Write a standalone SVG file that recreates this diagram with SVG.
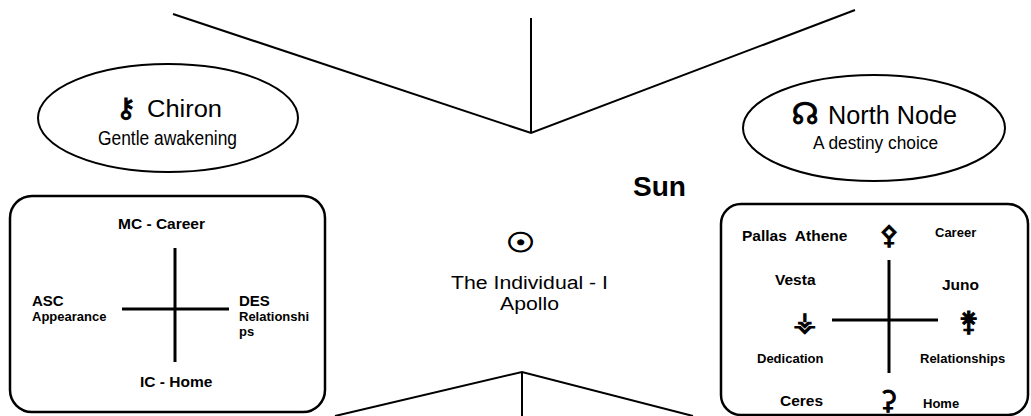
<svg xmlns="http://www.w3.org/2000/svg" width="1031" height="416" viewBox="0 0 1031 416">
<style>
.t{font-family:"Liberation Sans",Arial,sans-serif;fill:#000}
.b{font-weight:bold}
.sym{font-family:"DejaVu Sans",sans-serif;fill:#000;stroke:#000;stroke-width:1;text-anchor:middle}
.ln{stroke:#000;stroke-width:2;fill:none}
.cr{stroke:#000;stroke-width:3;fill:none}
.box{stroke:#000;stroke-width:2.5;fill:#fff}
.el{stroke:#000;stroke-width:2;fill:#fff}
</style>
<rect width="1031" height="416" fill="#fff"/>
<g id="connectors">
<polyline class="ln" points="173,14 531,133 855,10"/>
<line class="ln" x1="531" y1="18" x2="531" y2="133"/>
<polyline class="ln" points="335,416 522,372 693,416"/>
<line class="ln" x1="522" y1="372" x2="522" y2="416"/>
</g>
<g id="chiron">
<ellipse class="el" cx="168" cy="118" rx="130" ry="54"/>
<text class="sym" x="126" y="117" font-size="27" stroke-width="1.3">⚷</text>
<text class="t" x="147" y="117" font-size="23" textLength="75" lengthAdjust="spacingAndGlyphs">Chiron</text>
<text class="t" x="98" y="145" font-size="19.5" textLength="139" lengthAdjust="spacingAndGlyphs">Gentle awakening</text>
</g>
<g id="northnode">
<ellipse class="el" cx="874" cy="128" rx="131" ry="53"/>
<text class="sym" x="805" y="124" font-size="30" stroke-width="1.2">☊</text>
<text class="t" x="828" y="124" font-size="26" textLength="129" lengthAdjust="spacingAndGlyphs">North Node</text>
<text class="t" x="813" y="149" font-size="17.5" textLength="125" lengthAdjust="spacingAndGlyphs">A destiny choice</text>
</g>
<g id="sun">
<text class="t b" x="633" y="196" font-size="27.5" textLength="53" lengthAdjust="spacingAndGlyphs">Sun</text>
<text class="sym" transform="translate(520.5,252) scale(1.2,1)" x="0" y="0" font-size="27" stroke-width="0.4">☉</text>
<text class="t" x="451" y="289" font-size="18" textLength="157" lengthAdjust="spacingAndGlyphs">The Individual - I</text>
<text class="t" x="500" y="310" font-size="18" textLength="59" lengthAdjust="spacingAndGlyphs">Apollo</text>
</g>
<g id="houses">
<rect class="box" x="10" y="196" width="315" height="216" rx="22"/>
<line class="cr" x1="175" y1="248" x2="175" y2="362"/>
<line class="cr" x1="122" y1="309" x2="229" y2="309"/>
<text class="t b" x="118" y="229" font-size="15.5">MC - Career</text>
<text class="t b" x="32" y="306" font-size="15">ASC</text>
<text class="t b" x="32" y="321" font-size="13">Appearance</text>
<text class="t b" x="239" y="306" font-size="15">DES</text>
<text class="t b" x="239" y="321" font-size="13">Relationshi</text>
<text class="t b" x="239" y="336" font-size="13">ps</text>
<text class="t b" x="140" y="387" font-size="15.5">IC - Home</text>
</g>
<g id="asteroids">
<rect class="box" x="721" y="204" width="307" height="211" rx="20"/>
<line class="cr" x1="889" y1="260" x2="889" y2="373"/>
<line class="cr" x1="832" y1="320" x2="938" y2="320"/>
<text class="t b" x="742" y="241" font-size="15.5" style="white-space:pre">Pallas  Athene</text>
<text class="sym" x="889" y="244" font-size="26">⚴</text>
<text class="t b" x="935" y="237" font-size="13">Career</text>
<text class="t b" x="775" y="285" font-size="15.5">Vesta</text>
<text class="t b" x="942" y="290" font-size="15.5">Juno</text>
<text class="sym" x="805" y="331" font-size="27">⚶</text>
<text class="sym" x="969" y="331" font-size="27">⚵</text>
<text class="t b" x="757" y="363" font-size="13">Dedication</text>
<text class="t b" x="920" y="363" font-size="13">Relationships</text>
<text class="t b" x="780" y="406" font-size="15.5">Ceres</text>
<text class="sym" x="888" y="409" font-size="26">⚳</text>
<text class="t b" x="923" y="408" font-size="13">Home</text>
</g>
</svg>
